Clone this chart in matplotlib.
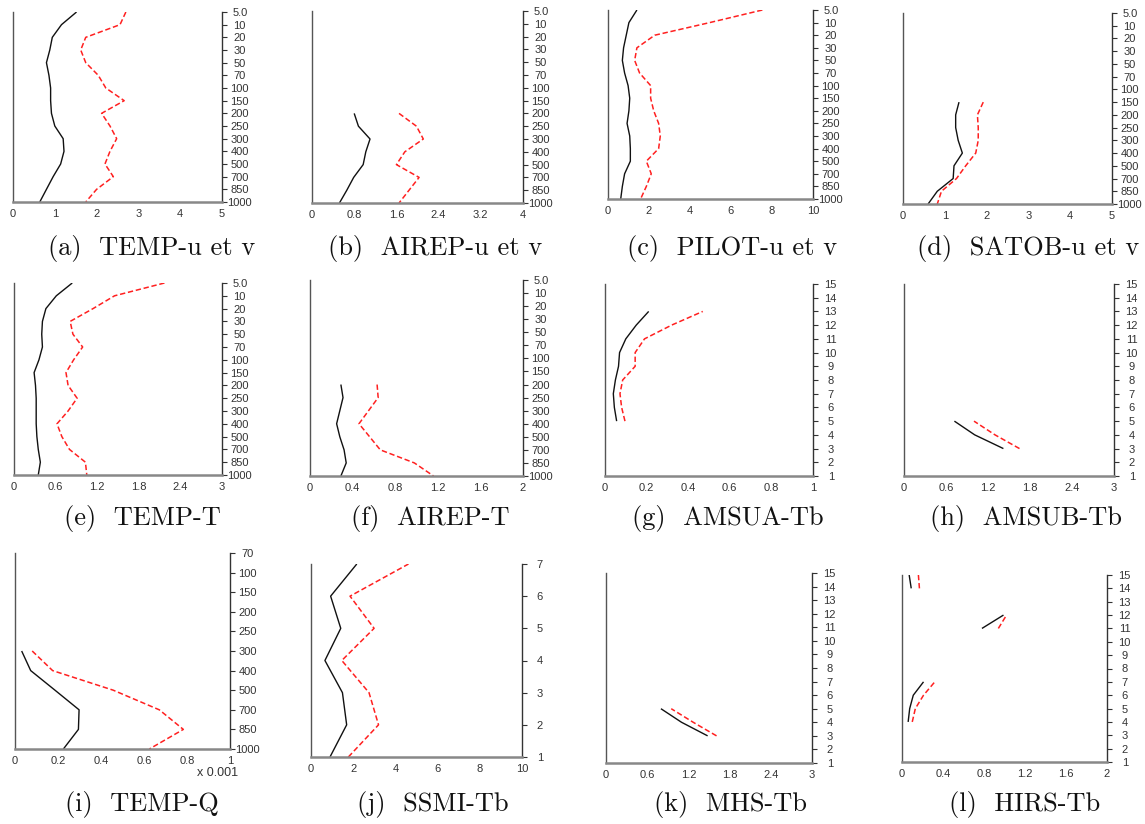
import numpy as np
import matplotlib
matplotlib.use("Agg")
import matplotlib.pyplot as plt

W, H = 1145, 824

# ---------------- data ----------------
PLEV = ["5.0", "10", "20", "30", "50", "70", "100", "150", "200", "250",
        "300", "400", "500", "700", "850", "1000"]
QLEV = ["70", "100", "150", "200", "250", "300", "400", "500", "700", "850", "1000"]

temp_uv_lev = PLEV
temp_uv_black = [1.52, 1.16, 0.94, 0.88, 0.80, 0.86, 0.90, 0.90, 0.92, 1.00, 1.20, 1.22, 1.14, 0.96, 0.80, 0.64]
temp_uv_red = [2.70, 2.56, 1.74, 1.62, 1.74, 2.04, 2.22, 2.66, 2.12, 2.32, 2.48, 2.32, 2.20, 2.40, 2.00, 1.74]

airep_uv_lev = ["200", "250", "300", "400", "500", "700", "850", "1000"]
airep_uv_black = [0.80, 0.88, 1.10, 1.02, 0.97, 0.79, 0.66, 0.52]
airep_uv_red = [1.65, 1.98, 2.11, 1.76, 1.60, 2.03, 1.84, 1.65]

pilot_uv_lev = PLEV
pilot_uv_black = [1.41, 1.02, 0.89, 0.76, 0.70, 0.81, 0.98, 1.06, 1.02, 0.93, 1.06, 1.09, 1.09, 0.81, 0.70, 0.62]
pilot_uv_red = [7.53, 4.96, 2.28, 1.41, 1.30, 1.54, 2.08, 2.08, 2.23, 2.47, 2.55, 2.47, 1.87, 2.11, 1.87, 1.59]

satob_uv_lev = ["150", "200", "250", "300", "400", "500", "700", "850", "1000"]
satob_uv_black = [1.34, 1.26, 1.26, 1.32, 1.42, 1.22, 1.20, 0.82, 0.60]
satob_uv_red = [1.92, 1.78, 1.80, 1.80, 1.74, 1.50, 1.28, 0.92, 0.82]

temp_t_lev = PLEV
temp_t_black = [0.84, 0.61, 0.46, 0.41, 0.40, 0.41, 0.36, 0.29, 0.31, 0.32, 0.32, 0.32, 0.33, 0.35, 0.38, 0.35]
temp_t_red = [2.17, 1.45, 1.14, 0.81, 0.85, 0.99, 0.86, 0.75, 0.78, 0.91, 0.78, 0.62, 0.69, 0.80, 1.03, 1.05]

airep_t_lev = ["200", "250", "300", "400", "500", "700", "850", "1000"]
airep_t_black = [0.29, 0.31, 0.28, 0.25, 0.28, 0.32, 0.34, 0.29]
airep_t_red = [0.63, 0.64, 0.55, 0.46, 0.56, 0.66, 0.98, 1.16]

amsua_ch = [5, 6, 7, 8, 9, 10, 11, 12, 13]
amsua_black = [0.056, 0.045, 0.040, 0.050, 0.065, 0.070, 0.100, 0.150, 0.210]
amsua_red = [0.096, 0.080, 0.072, 0.085, 0.145, 0.145, 0.190, 0.320, 0.470]

amsub_ch = [3, 4, 5]
amsub_black = [1.42, 1.01, 0.72]
amsub_red = [1.65, 1.30, 1.00]

temp_q_lev = ["300", "400", "500", "700", "850", "1000"]
temp_q_black = [0.031, 0.073, 0.186, 0.298, 0.295, 0.225]
temp_q_red = [0.080, 0.175, 0.457, 0.671, 0.783, 0.625]

ssmi_ch = [1, 2, 3, 4, 5, 6, 7]
ssmi_black = [0.90, 1.69, 1.49, 0.66, 1.41, 0.93, 2.17]
ssmi_red = [1.77, 3.20, 2.75, 1.46, 2.99, 1.85, 4.62]

mhs_ch = [3, 4, 5]
mhs_black = [1.48, 1.10, 0.80]
mhs_red = [1.61, 1.27, 0.95]

hirs_ch = [4, 5, 6, 7, 8, 9, 10, 11, 12, 13, 14, 15]
hirs_black = [0.06, 0.075, 0.11, 0.21, np.nan, np.nan, np.nan, 0.78, 0.99, np.nan, 0.09, 0.07]
hirs_red = [0.10, 0.13, 0.21, 0.32, np.nan, np.nan, np.nan, 0.94, 1.02, np.nan, 0.17, 0.16]

CH15 = [str(i) for i in range(1, 16)]
CH7 = [str(i) for i in range(1, 8)]

xt_5 = ["0", "1", "2", "3", "4", "5"]
xt_4 = ["0", "0.8", "1.6", "2.4", "3.2", "4"]
xt_10 = ["0", "2", "4", "6", "8", "10"]
xt_3 = ["0", "0.6", "1.2", "1.8", "2.4", "3"]
xt_2 = ["0", "0.4", "0.8", "1.2", "1.6", "2"]
xt_1 = ["0", "0.2", "0.4", "0.6", "0.8", "1"]

captions = ["(a)  TEMP-u et v", "(b)  AIREP-u et v", "(c)  PILOT-u et v", "(d)  SATOB-u et v",
            "(e)  TEMP-T", "(f)  AIREP-T", "(g)  AMSUA-Tb", "(h)  AMSUB-Tb",
            "(i)  TEMP-Q", "(j)  SSMI-Tb", "(k)  MHS-Tb", "(l)  HIRS-Tb"]

# ---------------- layout (pixels: left, right, top, bottom) ----------------
boxes = [(13, 222, 12, 202), (312, 523, 11, 203), (608, 813, 10, 199), (903, 1112, 13, 204),
         (14, 222, 283, 475), (310, 523, 280, 476), (605, 813, 284, 476), (904, 1114, 284, 476),
         (15, 230, 553, 749), (311, 522, 564, 757), (606, 812, 573, 763), (902, 1107, 575, 762)]
cap_x = [152, 435, 732, 1028, 142, 430, 728, 1026, 142, 433, 730, 1025]
cap_y = [248, 248, 248, 248, 518, 518, 518, 518, 805, 805, 805, 805]

TICKFONT = "Liberation Sans"
TCOL = "#333333"

fig = plt.figure(figsize=(W / 100, H / 100), dpi=100)


def make_ax(i):
    L, R, T, B = boxes[i]
    ax = fig.add_axes([L / W, 1 - B / H, (R - L) / W, (B - T) / H])
    ax.spines["top"].set_visible(False)
    ax.spines["left"].set_color("#555555")
    ax.spines["left"].set_linewidth(1.0)
    ax.spines["bottom"].set_color("#888888")
    ax.spines["bottom"].set_linewidth(1.8)
    ax.spines["right"].set_color("#333333")
    ax.spines["right"].set_linewidth(1.0)
    ax.yaxis.tick_right()
    ax.tick_params(axis="y", direction="out", length=3.6, width=0.8, colors="#333333",
                   labelsize=8, pad=9.2, labelcolor=TCOL)
    ax.tick_params(axis="x", direction="out", length=0, pad=5, labelsize=8, labelcolor=TCOL)
    return ax


def style_labels(ax):
    for lab in ax.get_xticklabels() + ax.get_yticklabels():
        lab.set_family(TICKFONT)
        lab.set_color(TCOL)
    for lab in ax.get_yticklabels():
        lab.set_horizontalalignment("center")


def draw_lines(ax, x_black, x_red, y):
    ax.plot(x_black, y, color="#111111", lw=1.0, solid_capstyle="butt")
    ax.plot(x_red, y, color="#ff2020", lw=1.1, dashes=(3.5, 1.8))


def pressure_panel(i, levels_all, lev, black, red, xlabels):
    ax = make_ax(i)
    n = len(levels_all)
    y = [levels_all.index(l) for l in lev]
    draw_lines(ax, black, red, y)
    ax.set_ylim(n - 1, 0)
    ax.set_yticks(range(n))
    ax.set_yticklabels(levels_all)
    xv = [float(s) for s in xlabels]
    ax.set_xlim(0, xv[-1])
    ax.set_xticks(xv)
    ax.set_xticklabels(xlabels)
    style_labels(ax)
    return ax


def channel_panel(i, chlabels, ch, black, red, xlabels):
    ax = make_ax(i)
    draw_lines(ax, black, red, ch)
    yv = [int(s) for s in chlabels]
    ax.set_ylim(yv[0], yv[-1])
    ax.set_yticks(yv)
    ax.set_yticklabels(chlabels)
    xv = [float(s) for s in xlabels]
    ax.set_xlim(0, xv[-1])
    ax.set_xticks(xv)
    ax.set_xticklabels(xlabels)
    style_labels(ax)
    return ax


pressure_panel(0, PLEV, temp_uv_lev, temp_uv_black, temp_uv_red, xt_5)
pressure_panel(1, PLEV, airep_uv_lev, airep_uv_black, airep_uv_red, xt_4)
pressure_panel(2, PLEV, pilot_uv_lev, pilot_uv_black, pilot_uv_red, xt_10)
pressure_panel(3, PLEV, satob_uv_lev, satob_uv_black, satob_uv_red, xt_5)
pressure_panel(4, PLEV, temp_t_lev, temp_t_black, temp_t_red, xt_3)
pressure_panel(5, PLEV, airep_t_lev, airep_t_black, airep_t_red, xt_2)
channel_panel(6, CH15, amsua_ch, amsua_black, amsua_red, xt_1)
channel_panel(7, CH15, amsub_ch, amsub_black, amsub_red, xt_3)
axq = pressure_panel(8, QLEV, temp_q_lev, temp_q_black, temp_q_red, xt_1)
axq.text(0.94, -0.09, "x 0.001", transform=axq.transAxes, ha="center", va="top",
         fontsize=9, family=TICKFONT, color=TCOL)
channel_panel(9, CH7, ssmi_ch, ssmi_black, ssmi_red, xt_10)
channel_panel(10, CH15, mhs_ch, mhs_black, mhs_red, xt_3)
channel_panel(11, CH15, hirs_ch, hirs_black, hirs_red, xt_2)

for cx, cy, txt in zip(cap_x, cap_y, captions):
    fig.text(cx / W, 1 - cy / H, txt, ha="center", va="center", fontsize=19,
             family=["cmr10", "DejaVu Serif"], color="#111111")

fig.savefig("out.png", dpi=100)
